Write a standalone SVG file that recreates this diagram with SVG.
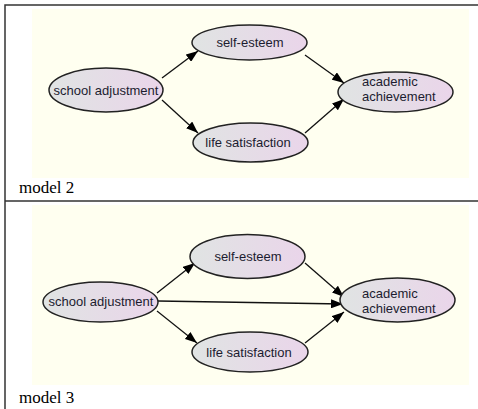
<svg xmlns="http://www.w3.org/2000/svg" width="478" height="409" viewBox="0 0 478 409">
<defs>
<linearGradient id="g" x1="0" y1="0" x2="1" y2="0">
<stop offset="0" stop-color="#E0E4E3"/>
<stop offset="1" stop-color="#EAD5EA"/>
</linearGradient>
<marker id="ah" viewBox="0 0 12 9" refX="12" refY="4.5" markerWidth="12" markerHeight="9" markerUnits="userSpaceOnUse" orient="auto">
<path d="M0,0 L12,4.5 L0,9 Z" fill="#000"/>
</marker>
</defs>
<style>
.frame{stroke:#333;stroke-width:1.5;fill:none}
.bg{fill:#FFFFF0}
.node ellipse{fill:url(#g);stroke:#222;stroke-width:1.5}
.node text{font-family:"Liberation Sans",Arial,sans-serif;font-size:13px;fill:#1c1c30}
.node text.c{text-anchor:middle}
.cap{font-family:"Liberation Serif","Times New Roman",serif;font-size:17px;fill:#000}
.edges line{stroke:#111;stroke-width:1.3;marker-end:url(#ah)}
</style>
<rect class="bg" x="32" y="9" width="437" height="169"/>
<rect class="bg" x="32" y="205" width="437" height="180"/>
<path class="frame" d="M5,409 V5 H478 M5,201 H478"/>
<text class="cap" x="19" y="193">model  2</text>
<text class="cap" x="19" y="403">model  3</text>

<g id="edges-m2" class="edges">
<line x1="162" y1="78" x2="198" y2="51"/>
<line x1="162" y1="100" x2="198" y2="133"/>
<line x1="305" y1="55" x2="344" y2="83"/>
<line x1="305" y1="133" x2="344" y2="99"/>
</g>
<g id="m2-school" class="node"><ellipse cx="106" cy="90" rx="57" ry="22"/><text class="c" x="106" y="94.5">school adjustment</text></g>
<g id="m2-self" class="node"><ellipse cx="249.5" cy="42.5" rx="57.5" ry="17.5"/><text class="c" x="250" y="47">self-esteem</text></g>
<g id="m2-life" class="node"><ellipse cx="250.5" cy="142.5" rx="57.5" ry="19.5"/><text class="c" x="248" y="147">life satisfaction</text></g>
<g id="m2-acad" class="node"><ellipse cx="395.5" cy="92" rx="57.5" ry="20"/><text x="362" y="86">academic</text><text x="362" y="101">achievement</text></g>

<g id="edges-m3" class="edges">
<line x1="157" y1="293" x2="195" y2="263"/>
<line x1="158" y1="301" x2="343" y2="304"/>
<line x1="157" y1="311" x2="197" y2="343"/>
<line x1="305" y1="263" x2="344" y2="297"/>
<line x1="305" y1="343" x2="344" y2="312"/>
</g>
<g id="m3-school" class="node"><ellipse cx="100.5" cy="302" rx="57.5" ry="20"/><text class="c" x="101" y="306">school adjustment</text></g>
<g id="m3-self" class="node"><ellipse cx="247.5" cy="256.5" rx="57.5" ry="22"/><text class="c" x="248" y="261">self-esteem</text></g>
<g id="m3-life" class="node"><ellipse cx="250" cy="352" rx="58" ry="20"/><text class="c" x="249" y="356.5">life satisfaction</text></g>
<g id="m3-acad" class="node"><ellipse cx="397.5" cy="300" rx="57.5" ry="22"/><text x="362" y="298">academic</text><text x="362" y="313">achievement</text></g>
</svg>
